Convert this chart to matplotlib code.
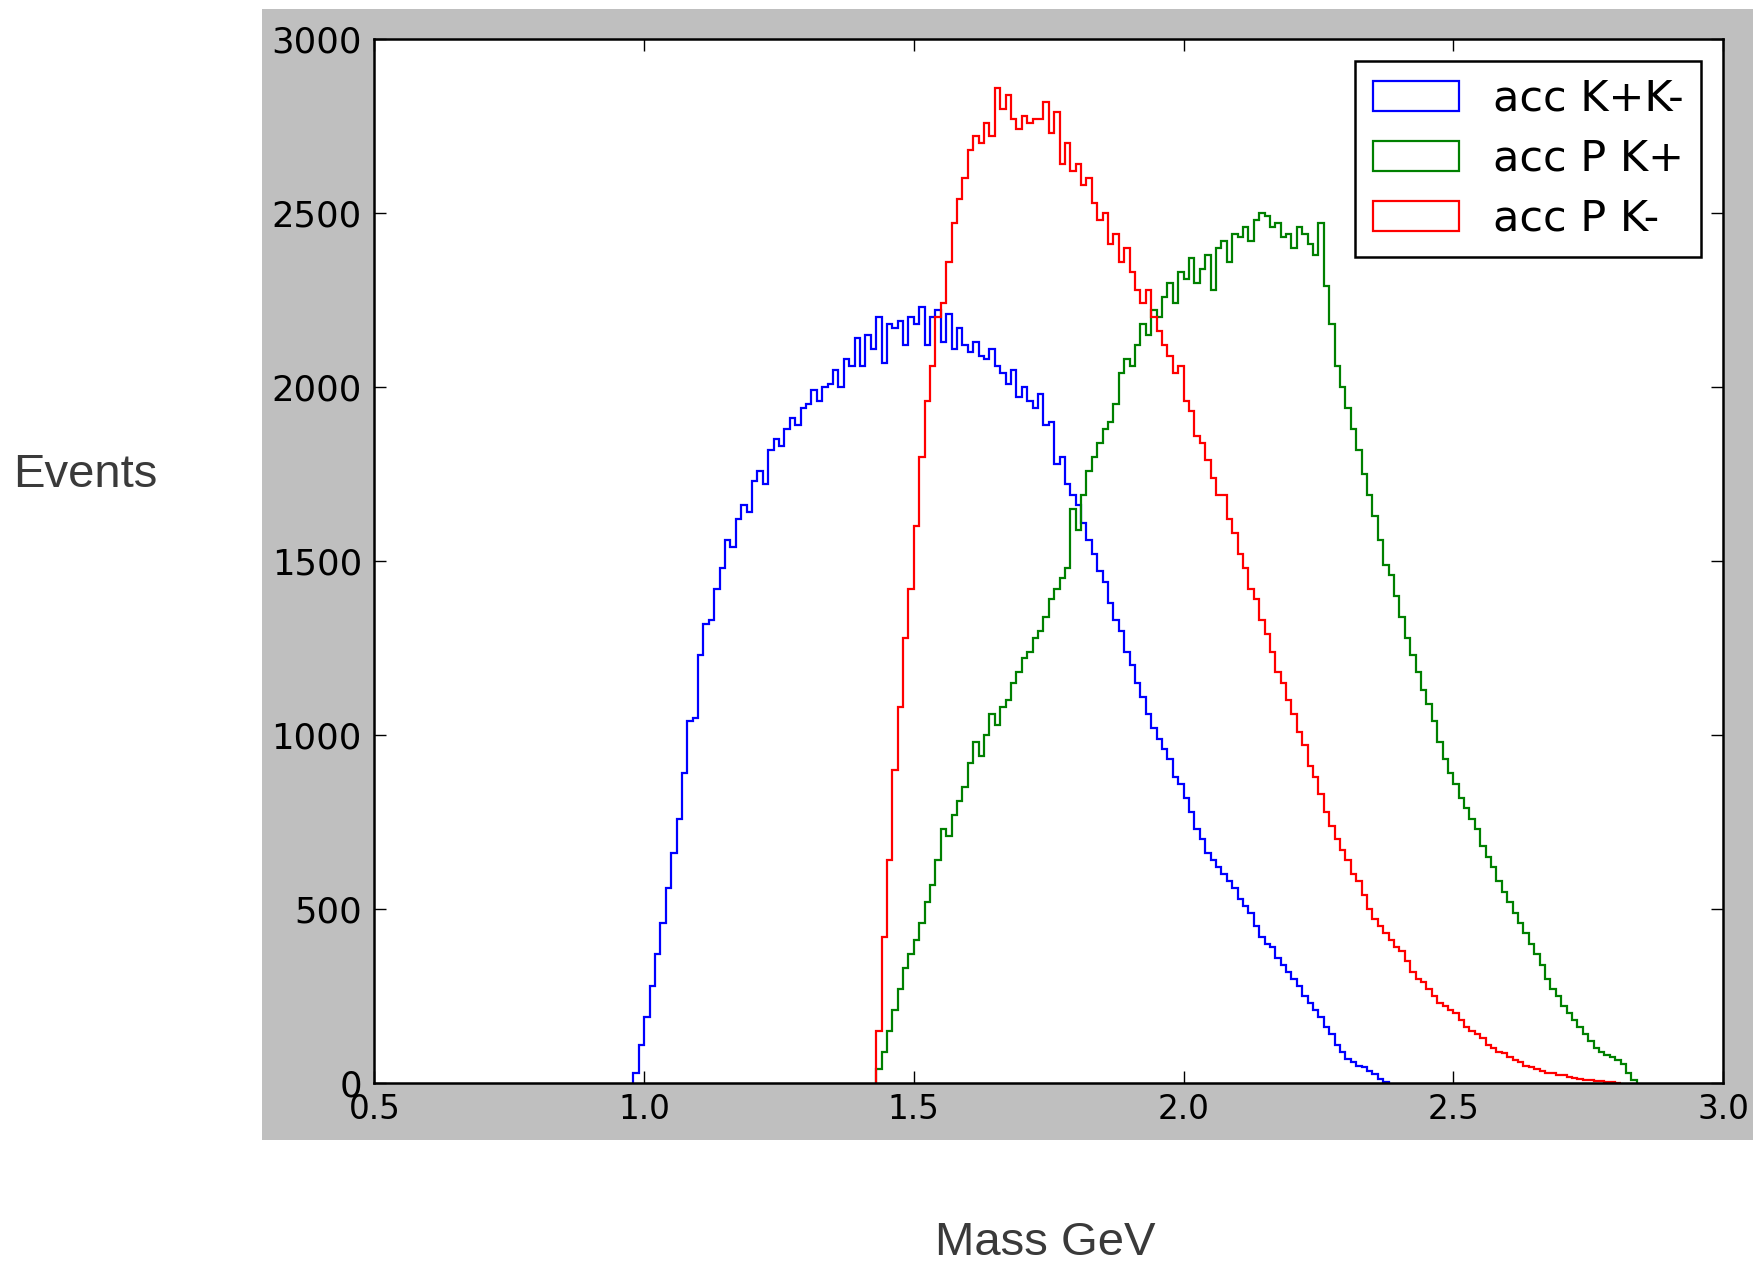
#!/usr/bin/env python3
"""Accepted invariant-mass spectra for the three kaon/proton pairings."""
import matplotlib

matplotlib.use("Agg")
import matplotlib.pyplot as plt
import numpy as np
from matplotlib.patches import Rectangle

BIN_WIDTH = 0.01

# acc K+K-: first bin starts at 0.98 GeV
kk_start = 0.98
kk_counts = [
    30, 110, 190, 280, 370, 460, 560, 660, 760, 890,
    1040, 1050, 1230, 1320, 1330, 1420, 1480, 1560, 1540, 1620,
    1660, 1640, 1730, 1760, 1720, 1820, 1850, 1830, 1880, 1910,
    1890, 1940, 1950, 1990, 1960, 2000, 2010, 2050, 2000, 2080,
    2060, 2140, 2060, 2150, 2110, 2200, 2070, 2180, 2170, 2190,
    2120, 2200, 2180, 2230, 2120, 2200, 2220, 2130, 2210, 2110,
    2170, 2120, 2100, 2130, 2090, 2080, 2110, 2060, 2040, 2010,
    2050, 1970, 2000, 1960, 1940, 1980, 1890, 1900, 1780, 1800,
    1720, 1690, 1660, 1610, 1560, 1520, 1470, 1440, 1380, 1330,
    1300, 1240, 1200, 1150, 1110, 1060, 1020, 990, 960, 930,
    880, 860, 820, 780, 730, 700, 660, 640, 620, 600,
    580, 560, 530, 510, 490, 450, 420, 400, 390, 360,
    340, 320, 300, 280, 250, 230, 210, 190, 160, 140,
    110, 90, 70, 60, 50, 45, 35, 25, 12, 4,
]

# acc P K+: first bin starts at 1.43 GeV
pkp_start = 1.43
pkp_counts = [
    40, 90, 150, 210, 270, 330, 370, 410, 460, 520,
    570, 640, 730, 710, 770, 810, 850, 920, 980, 940,
    1000, 1060, 1030, 1080, 1100, 1150, 1180, 1220, 1240, 1280,
    1300, 1340, 1390, 1420, 1450, 1480, 1650, 1590, 1690, 1760,
    1800, 1840, 1880, 1900, 1950, 2040, 2080, 2060, 2120, 2180,
    2150, 2220, 2200, 2260, 2300, 2240, 2330, 2310, 2370, 2300,
    2340, 2380, 2280, 2400, 2420, 2360, 2440, 2430, 2460, 2420,
    2480, 2500, 2490, 2460, 2470, 2430, 2440, 2400, 2460, 2440,
    2410, 2380, 2470, 2290, 2180, 2060, 2000, 1940, 1880, 1820,
    1750, 1690, 1630, 1560, 1490, 1460, 1400, 1340, 1280, 1230,
    1180, 1130, 1090, 1040, 980, 930, 890, 860, 820, 790,
    760, 730, 680, 650, 620, 580, 550, 520, 490, 460,
    430, 400, 370, 340, 300, 270, 250, 220, 200, 180,
    160, 140, 120, 100, 90, 80, 75, 65, 55, 30,
    10,
]

# acc P K-: first bin starts at 1.43 GeV
pkm_start = 1.43
pkm_counts = [
    150, 420, 640, 900, 1080, 1280, 1420, 1600, 1800, 1960,
    2060, 2200, 2240, 2360, 2470, 2540, 2600, 2680, 2720, 2700,
    2760, 2720, 2860, 2800, 2840, 2770, 2740, 2780, 2760, 2770,
    2770, 2820, 2730, 2790, 2640, 2700, 2620, 2640, 2580, 2600,
    2530, 2480, 2500, 2410, 2440, 2360, 2400, 2330, 2280, 2240,
    2280, 2200, 2160, 2120, 2090, 2040, 2060, 1960, 1930, 1860,
    1840, 1790, 1740, 1690, 1690, 1620, 1580, 1520, 1480, 1420,
    1390, 1330, 1290, 1240, 1180, 1150, 1100, 1060, 1010, 970,
    910, 880, 830, 780, 740, 700, 670, 640, 600, 580,
    540, 500, 470, 450, 430, 410, 390, 380, 350, 320,
    300, 290, 270, 250, 230, 220, 210, 200, 180, 160,
    150, 140, 130, 110, 100, 90, 85, 75, 65, 60,
    50, 45, 40, 35, 30, 28, 24, 22, 18, 15,
    12, 10, 8, 6, 5, 3, 2, 1,
]

series_labels = ["acc K+K-", "acc P K+", "acc P K-"]
series_colors = ["#0000ff", "#008000", "#ff0000"]

x_ticks = [0.5, 1.0, 1.5, 2.0, 2.5, 3.0]
y_ticks = [0, 500, 1000, 1500, 2000, 2500, 3000]


def bin_edges(start, counts):
    return start + BIN_WIDTH * np.arange(len(counts) + 1)


def main():
    fig = plt.figure(figsize=(17.53, 12.66), dpi=100, facecolor="white")

    # grey panel behind the embedded plot
    fig.add_artist(Rectangle((0.1495, 0.0995), 0.8505, 0.8934, transform=fig.transFigure,
                             facecolor="#bfbfbf", edgecolor="none", zorder=0))

    ax = fig.add_axes([0.2136, 0.1445, 0.7693, 0.8247])
    ax.set_facecolor("white")

    for start, counts, label, color in zip(
        [kk_start, pkp_start, pkm_start],
        [kk_counts, pkp_counts, pkm_counts],
        series_labels,
        series_colors,
    ):
        edges = bin_edges(start, counts)
        centers = 0.5 * (edges[:-1] + edges[1:])
        ax.hist(centers, bins=edges, weights=counts, histtype="step",
                color=color, linewidth=1.6, label=label)

    ax.set_xlim(0.5, 3.0)
    ax.set_ylim(0, 3000)
    ax.set_xticks(x_ticks)
    ax.set_xticklabels([f"{t:.1f}" for t in x_ticks])
    ax.set_yticks(y_ticks)
    ax.tick_params(direction="in", length=8.5, width=1.0, top=True, right=True, colors="black")
    ax.tick_params(axis="x", labelsize=23.5, pad=7)
    ax.tick_params(axis="y", labelsize=25.5, pad=9)
    for spine in ax.spines.values():
        spine.set_linewidth(1.8)
        spine.set_color("black")

    leg = ax.legend(loc="upper right", fontsize=31, fancybox=False, frameon=True,
                    framealpha=1.0, edgecolor="black", handlelength=2.0,
                    handleheight=0.7, handletextpad=0.8, borderpad=0.4,
                    labelspacing=0.42, borderaxespad=0.5)
    leg.get_frame().set_linewidth(1.8)

    fig.text(0.0485, 0.625, "Events", ha="center", va="center", fontsize=34,
             family="Liberation Sans", color="#3a3a3a")
    fig.text(0.596, 0.018, "Mass GeV", ha="center", va="center", fontsize=34,
             family="Liberation Sans", color="#3a3a3a")

    fig.savefig("out.png", dpi=100, facecolor="white")
    plt.close(fig)


if __name__ == "__main__":
    main()
